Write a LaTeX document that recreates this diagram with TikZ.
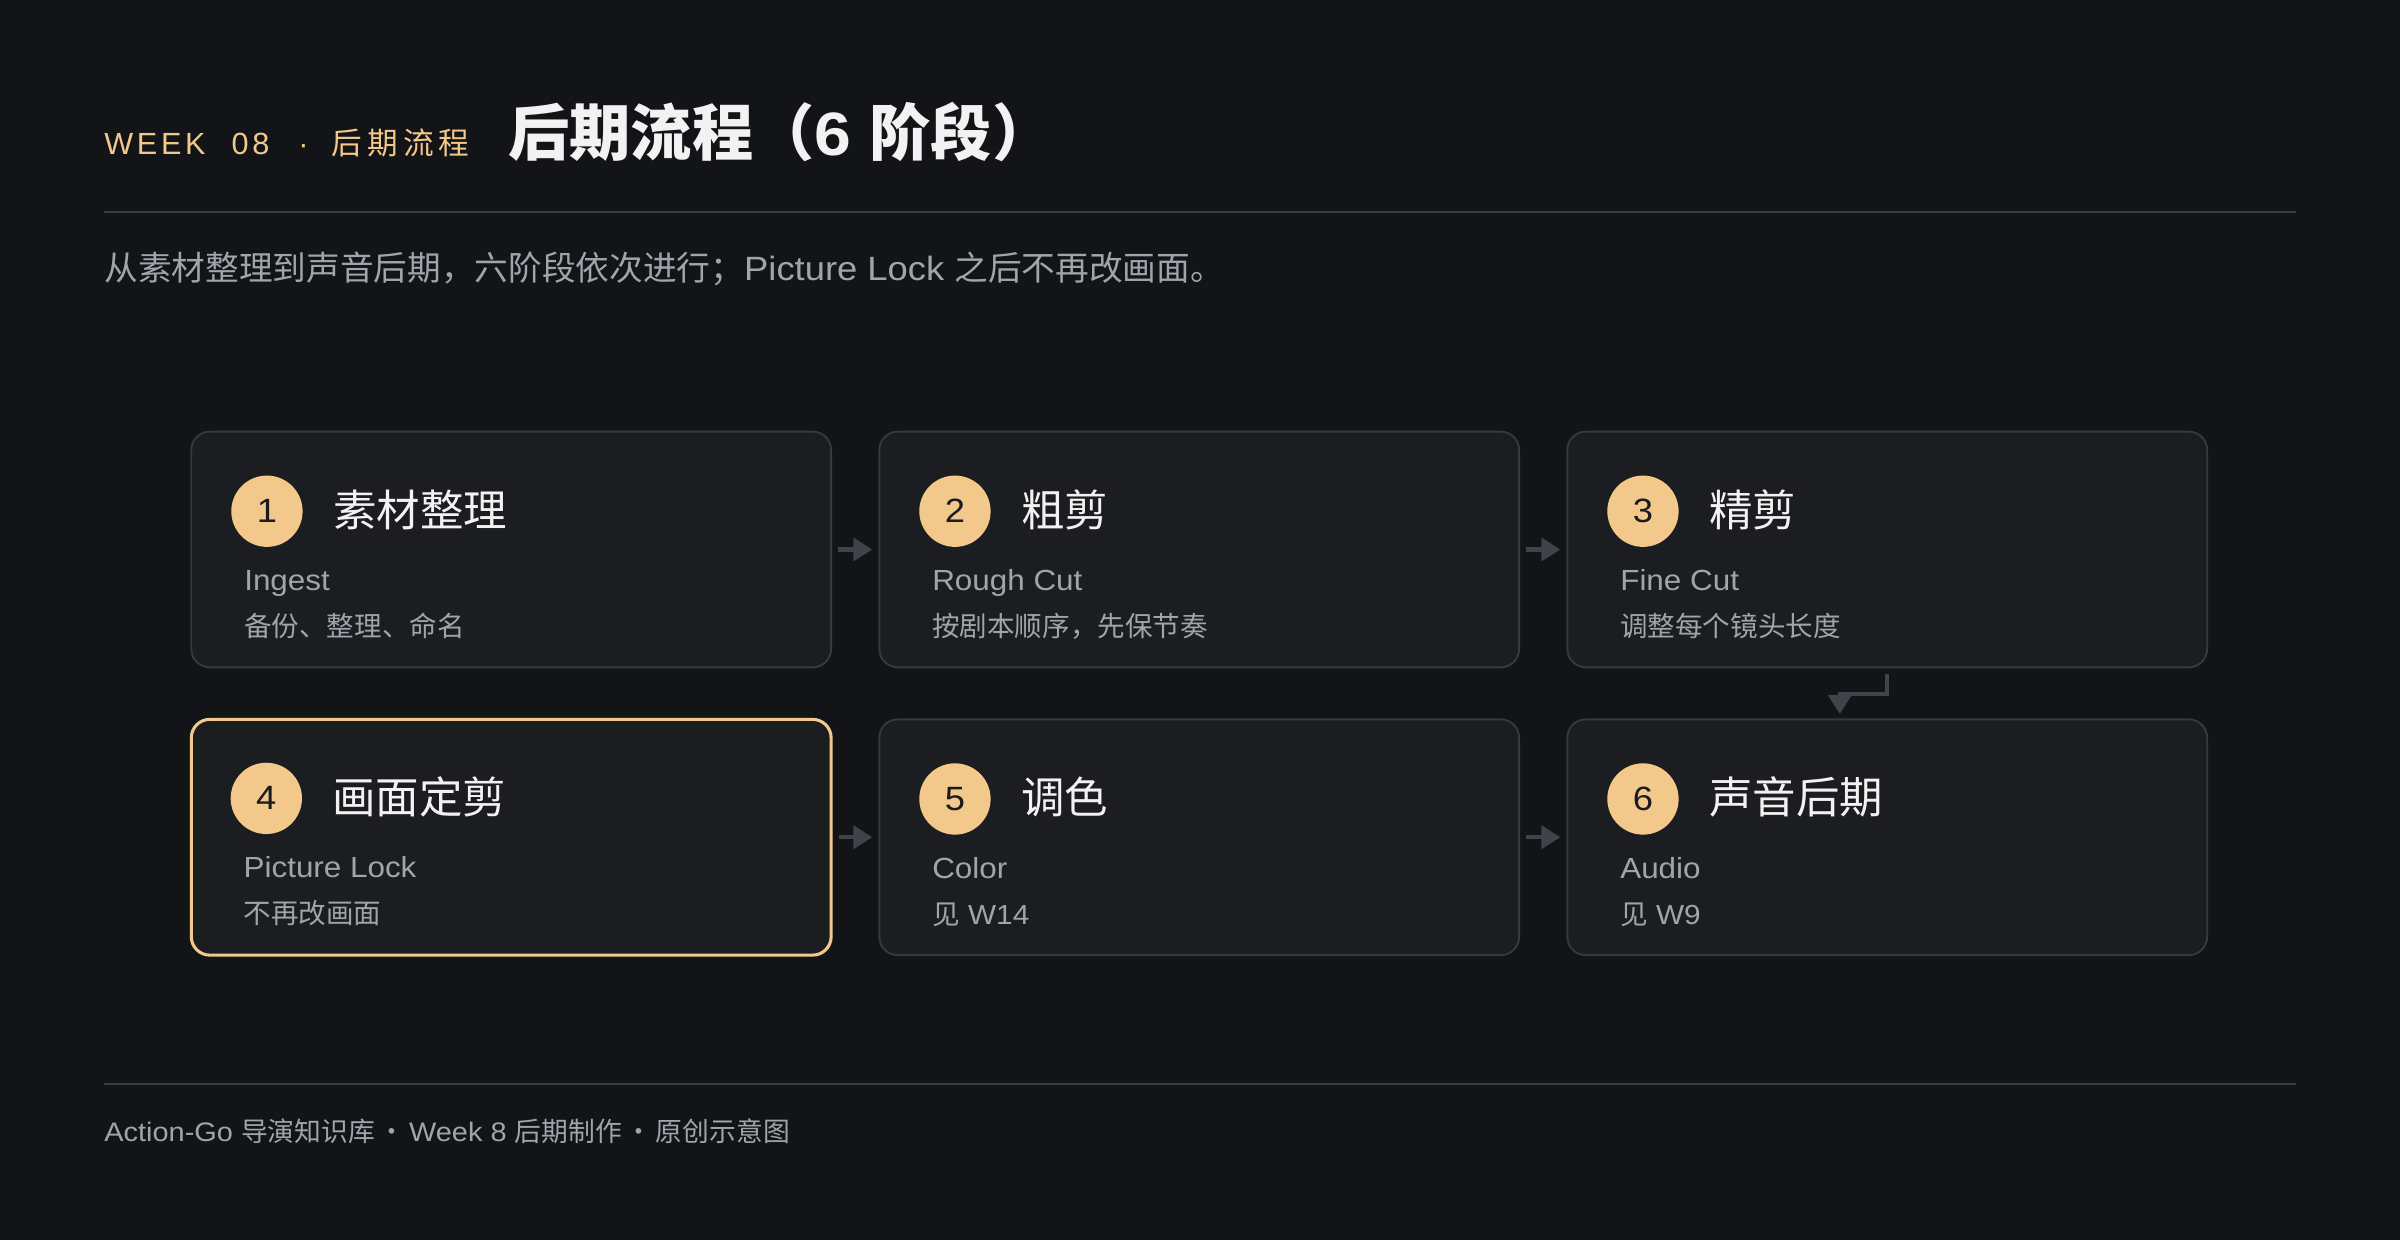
\documentclass[tikz,border=0pt]{standalone}
\usepackage{fontspec}
\setmainfont{Liberation Sans}[FakeStretch=1.08]
\newfontfamily\cjk{Noto Sans CJK SC}
\newfontfamily\spacedlat{Liberation Sans}[LetterSpace=12]
\newfontfamily\spacedcjk{Noto Sans CJK SC}[LetterSpace=17]
\usetikzlibrary{arrows.meta}
\definecolor{bgc}{HTML}{131418}
\definecolor{boxfill}{HTML}{1C1D21}
\definecolor{boxline}{HTML}{38393E}
\definecolor{rulec}{HTML}{3A3B40}
\definecolor{gold}{HTML}{F2C98A}
\definecolor{titlec}{HTML}{F2F2F2}
\definecolor{grayc}{HTML}{A0A4AB}
\definecolor{arrc}{HTML}{40434A}
\definecolor{numc}{HTML}{1A1B1F}
\newcommand\stagecontent[5]{%
  \node[numdot] (#1n) at ([xshift=50pt,yshift=-52.6pt]#1.north west) {#2};
  \node[stitle] (#1t) at ([xshift=93pt,yshift=-62.3pt]#1.north west) {\cjk #3};
  \node[sen] (#1e) at ([xshift=35pt,yshift=-104.6pt]#1.north west) {#4};
  \node[sdesc] (#1d) at ([xshift=35pt,yshift=-134.5pt]#1.north west) {#5};
}
\newcommand\fdot{\hspace{2.4pt}{\cjk ·}\hspace{2.4pt}}
\begin{document}
\begin{tikzpicture}[x=1pt,y=-1pt,
  stagebox/.style={draw=boxline, line width=1.2pt, fill=boxfill, rounded corners=12pt,
    minimum width=418pt, minimum height=154pt, inner sep=0pt},
  lockbox/.style={stagebox, draw=gold, line width=2pt},
  numdot/.style={circle, fill=gold, minimum size=46.6pt, inner sep=0pt, text=numc,
    font=\fontsize{22}{22}\selectfont},
  stitle/.style={anchor=base west, inner sep=0pt, text=titlec, font=\fontsize{28.4}{30}\selectfont},
  sen/.style={anchor=base west, inner sep=0pt, text=grayc, font=\fontsize{19}{21}\selectfont},
  sdesc/.style={anchor=base west, inner sep=0pt, text=grayc, font=\fontsize{18}{20}\selectfont},
  arr/.style={draw=arrc, line width=2.8pt, -{Triangle[length=12.4pt,width=15pt]},
    shorten <=4pt, shorten >=4pt},
  rulel/.style={draw=rulec, line width=1.3pt},
  plain/.style={anchor=base west, inner sep=0pt}
]
\useasboundingbox[fill=bgc] (0,0) rectangle (1568,810.13);

% header
\node[plain, text=gold, font=\fontsize{20}{22}\selectfont] (kicker) at (68,100.8)
  {{\spacedlat WEEK}\hspace{17pt}{\spacedlat 08}\hspace{19pt}{\spacedlat ·}\hspace{15pt}{\spacedcjk 后期流程}};
\node[plain, text=titlec, font=\fontsize{40}{42}\selectfont\bfseries] (title) at (332,101.5) {{\cjk 后期流程（}6 {\cjk 阶段）}};
\coordinate (hl1) at (68,138.5);
\coordinate (hl2) at (1500,138.5);
\draw[rulel] (hl1) -- (hl2);
\node[plain, text=grayc, font=\fontsize{22}{24}\selectfont] (sub) at (68,183) {{\cjk 从素材整理到声音后期，六阶段依次进行；}Picture Lock {\cjk 之后不再改画面。}};

% stages
\node[stagebox] (b1) at (334,359) {};
\node[stagebox] (b2) at (783.5,359) {};
\node[stagebox] (b3) at (1233,359) {};
\node[lockbox] (b4) at (334,547) {};
\node[stagebox] (b5) at (783.5,547) {};
\node[stagebox] (b6) at (1233,547) {};

\stagecontent{b1}{1}{素材整理}{Ingest}{\cjk 备份、整理、命名}
\stagecontent{b2}{2}{粗剪}{Rough Cut}{\cjk 按剧本顺序，先保节奏}
\stagecontent{b3}{3}{精剪}{Fine Cut}{\cjk 调整每个镜头长度}
\stagecontent{b4}{4}{画面定剪}{Picture Lock}{\cjk 不再改画面}
\stagecontent{b5}{5}{调色}{Color}{{\cjk 见} W14}
\stagecontent{b6}{6}{声音后期}{Audio}{{\cjk 见} W9}

% connectors
\draw[arr] (b1) -- (b2);
\draw[arr] (b2) -- (b3);
\draw[arr] (b4) -- (b5);
\draw[arr] (b5) -- (b6);
\coordinate (turn) at ([xshift=-31pt,yshift=-17pt]b3.south);
\draw[arr, shorten >=3pt] (b3.south) |- (turn) -- (turn |- b6.north);

% footer
\coordinate (fl1) at (68,708.4);
\coordinate (fl2) at (1500,708.4);
\draw[rulel] (fl1) -- (fl2);
\node[plain, text=grayc, font=\fontsize{17.5}{19}\selectfont] (foot) at (68,746) {Action-Go {\cjk 导演知识库}\fdot Week 8 {\cjk 后期制作}\fdot{\cjk 原创示意图}};
\end{tikzpicture}
\end{document}
